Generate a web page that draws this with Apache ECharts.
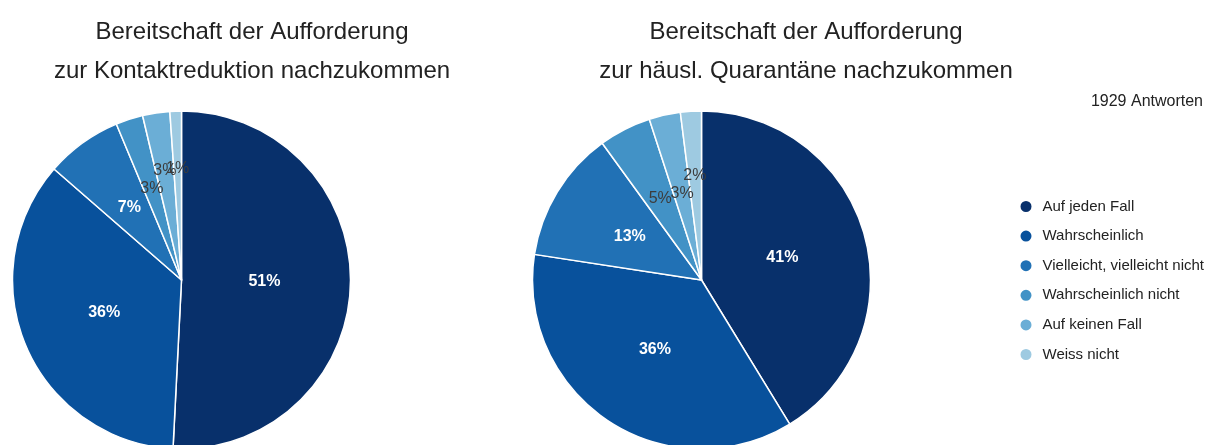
<!DOCTYPE html>
<html>
<head>
<meta charset="utf-8">
<script src="https://cdn.jsdelivr.net/npm/echarts@6/dist/echarts.min.js"></script>
<style>
html,body{margin:0;padding:0;background:#fff;}
#chart{width:1208px;height:445px;}
</style>
</head>
<body>
<div id="chart"></div>
<script>
const categories = ['Auf jeden Fall', 'Wahrscheinlich', 'Vielleicht, vielleicht nicht', 'Wahrscheinlich nicht', 'Auf keinen Fall', 'Weiss nicht'];
const kontaktValues = [50.8, 35.6, 7.3, 2.6, 2.6, 1.1];
const quarantaeneValues = [41.3, 36.2, 12.6, 5.0, 3.0, 2.0];
const titleKontakt = 'Bereitschaft der Aufforderung\nzur Kontaktreduktion nachzukommen';
const titleQuarantaene = 'Bereitschaft der Aufforderung\nzur häusl. Quarantäne nachzukommen';
const responsesText = '1929 Antworten';
const colors = ['#08306b', '#08519c', '#2171b5', '#4292c6', '#6baed6', '#9ecae1'];

// label distance from pie centre (style), per series / slice
const labelRadii = [
  [83, 84, 89, 96, 111, 111],
  [84, 84, 84, 91, 89, 105]
];

const FONT = '"Liberation Sans", Arial, sans-serif';
const PIE_CENTERS = [[181.5, 280], [701.5, 280]];
const PIE_RADIUS = 169;
const seriesValues = [kontaktValues, quarantaeneValues];

function buildData(values) {
  return categories.map((name, i) => ({
    name: name,
    value: values[i],
    label: values[i] < 6
      ? { color: '#3c3c3c', fontWeight: 'normal', fontSize: 16 }
      : { color: '#ffffff', fontWeight: 'bold', fontSize: 16 }
  }));
}

function labelPos(params) {
  const s = params.seriesIndex, i = params.dataIndex;
  const vals = seriesValues[s];
  const total = vals.reduce((a, b) => a + b, 0);
  let cum = 0;
  for (let k = 0; k < i; k++) cum += vals[k];
  const mid = (cum + vals[i] / 2) / total * Math.PI * 2;
  const R = labelRadii[s][i];
  const c = PIE_CENTERS[s];
  return {
    x: c[0] + R * Math.sin(mid),
    y: c[1] - R * Math.cos(mid),
    align: 'center',
    verticalAlign: 'middle',
    hideOverlap: false,
    moveOverlap: null
  };
}

function pieSeries(values, idx) {
  return {
    type: 'pie',
    center: PIE_CENTERS[idx],
    radius: [0, PIE_RADIUS],
    startAngle: 90,
    clockwise: true,
    avoidLabelOverlap: false,
    animation: false,
    itemStyle: { borderColor: '#ffffff', borderWidth: 1.5 },
    label: {
      show: true,
      position: 'inside',
      fontFamily: FONT,
      formatter: p => Math.round(p.value) + '%'
    },
    labelLine: { show: false },
    labelLayout: labelPos,
    emphasis: { disabled: true },
    data: buildData(values)
  };
}

const chart = echarts.init(document.getElementById('chart'), null, { renderer: 'canvas' });
chart.setOption({
  backgroundColor: '#ffffff',
  color: colors,
  animation: false,
  title: [
    {
      text: titleKontakt, left: 247, top: 8, textAlign: 'center',
      textStyle: { fontFamily: FONT, fontSize: 24, fontWeight: 'normal', color: '#222222', lineHeight: 39 }
    },
    {
      text: titleQuarantaene, left: 801, top: 8, textAlign: 'center',
      textStyle: { fontFamily: FONT, fontSize: 24, fontWeight: 'normal', color: '#222222', lineHeight: 39 }
    },
    {
      text: responsesText, right: 0, top: 88,
      textStyle: { fontFamily: FONT, fontSize: 16, fontWeight: 'normal', color: '#222222', lineHeight: 17 }
    }
  ],
  legend: {
    orient: 'vertical',
    left: 1018.5,
    top: 199,
    padding: 0,
    icon: 'circle',
    itemWidth: 13,
    itemHeight: 13,
    itemGap: 14.6,
    textStyle: { fontFamily: FONT, fontSize: 15, color: '#222222', lineHeight: 15, padding: [0, 0, 0, 5] },
    selectedMode: false,
    data: categories
  },
  series: [pieSeries(kontaktValues, 0), pieSeries(quarantaeneValues, 1)]
});
</script>
</body>
</html>
